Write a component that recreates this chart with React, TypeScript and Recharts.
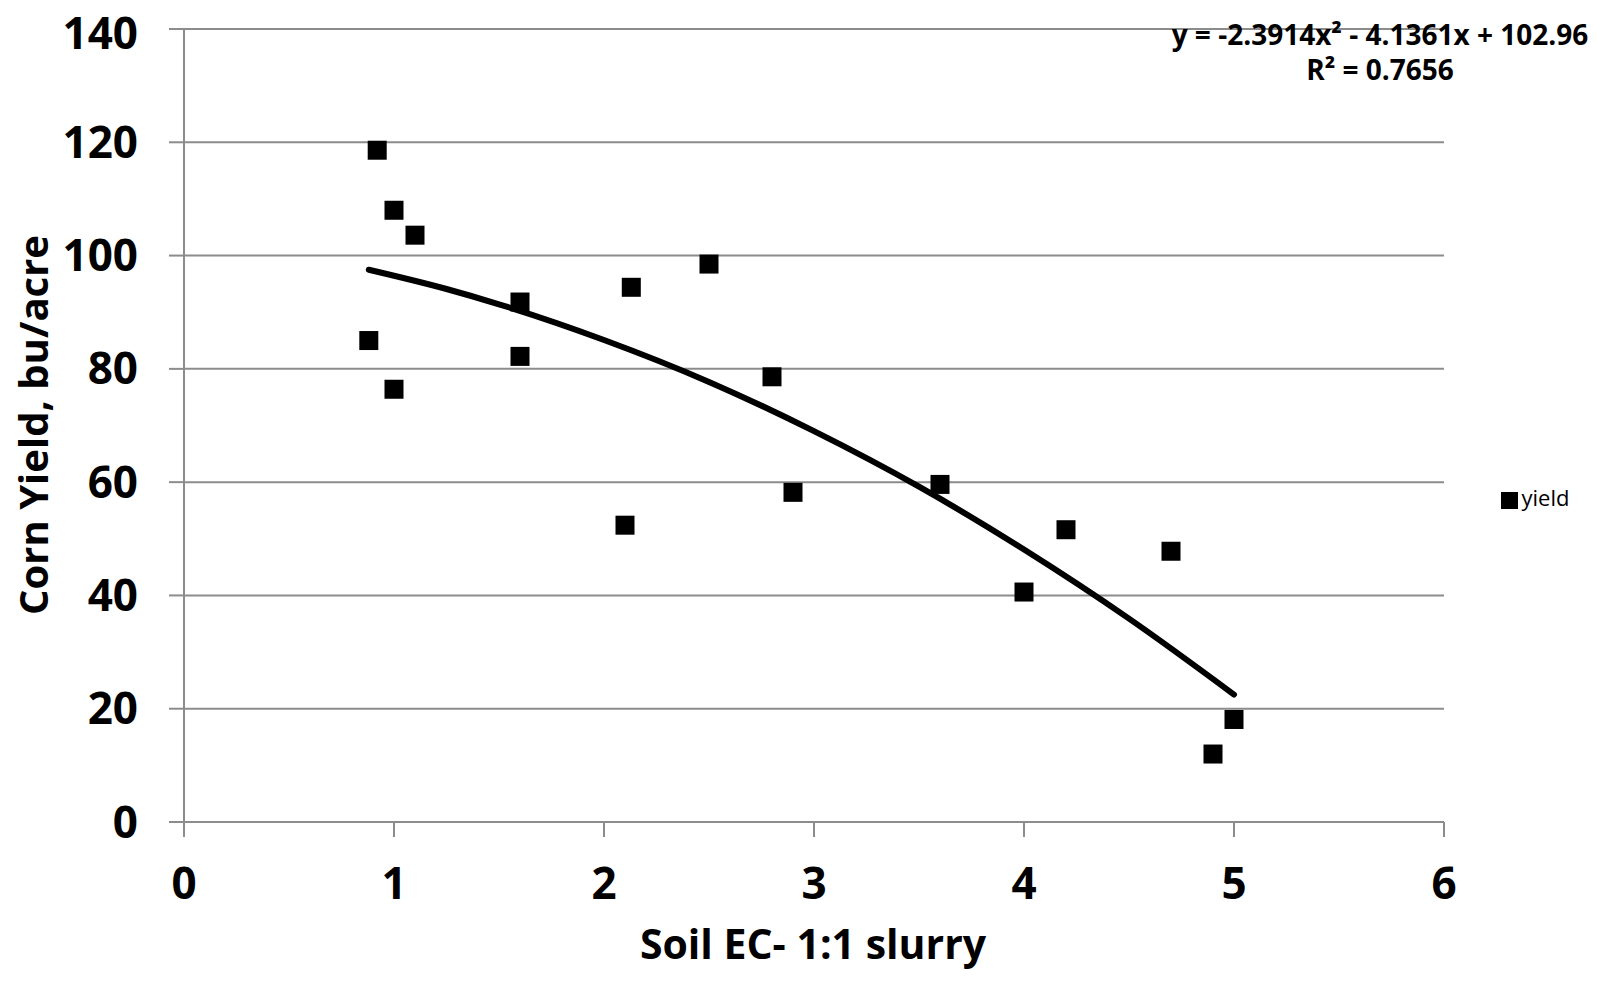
import {
  ComposedChart,
  Scatter,
  Line,
  XAxis,
  YAxis,
  CartesianGrid,
  Legend,
} from "recharts";

const ecValues = [0.92, 1.0, 1.1, 0.88, 1.0, 1.6, 1.6, 2.1, 2.13, 2.5, 2.8, 2.9, 3.6, 4.0, 4.2, 4.7, 4.9, 5.0];
const yieldValues = [118.6, 108.0, 103.6, 85.0, 76.4, 91.8, 82.2, 52.4, 94.4, 98.5, 78.6, 58.2, 59.6, 40.6, 51.6, 47.8, 12.0, 18.1];

// polynomial trendline as drawn
const trendX = [0.88, 1.25, 1.5, 2.0, 2.5, 3.0, 3.5, 4.0, 4.5, 5.0];
const trendY = [97.5, 94.1, 91.4, 85.1, 77.7, 69.0, 59.2, 48.1, 35.9, 22.5];

const xTicks = [0, 1, 2, 3, 4, 5, 6];
const yTicks = [0, 20, 40, 60, 80, 100, 120, 140];

const points = ecValues.map((x, i) => ({ x, y: yieldValues[i] }));
const trend = trendX.map((x, i) => ({ x, t: trendY[i] }));

const FONT = "'Open Sans', 'Noto Sans', sans-serif";
const GRID = "#8c8c8c";

const SquareDot = (props: any) => {
  const { cx, cy } = props;
  if (cx == null || cy == null) return null;
  return <rect x={cx - 9.5} y={cy - 9.5} width={19} height={19} fill="#000" />;
};

const App = () => {
  return (
    <div style={{ position: "relative", width: 1590, height: 965, fontFamily: FONT }}>
      <ComposedChart
        width={1590}
        height={965}
        margin={{ top: 21, right: 154, bottom: 51, left: 64 }}
      >
        <CartesianGrid vertical={false} stroke={GRID} strokeWidth={2} />
        <XAxis
          type="number"
          dataKey="x"
          domain={[0, 6]}
          ticks={xTicks}
          height={100}
          tickSize={15}
          tickMargin={31}
          stroke={GRID}
          strokeWidth={2}
          tick={{ fontSize: 44, fontWeight: 700, fill: "#000" }}
        />
        <YAxis
          type="number"
          domain={[0, 140]}
          ticks={yTicks}
          width={112}
          tickSize={15}
          tickMargin={31}
          stroke={GRID}
          strokeWidth={2}
          tick={{ fontSize: 44, fontWeight: 700, fill: "#000" }}
        />
        <Line
          data={trend}
          dataKey="t"
          type="monotone"
          stroke="#000"
          strokeWidth={6}
          strokeLinecap="round"
          dot={false}
          activeDot={false}
          legendType="none"
          isAnimationActive={false}
        />
        <Scatter
          name="yield"
          data={points}
          dataKey="y"
          fill="#000"
          shape={<SquareDot />}
          legendType="square"
          isAnimationActive={false}
        />
        <Legend
          layout="horizontal"
          align="center"
          verticalAlign="middle"
          iconSize={17}
          wrapperStyle={{ left: 1482, top: 474, width: 100, fontSize: 22, color: "#000", textAlign: "left" }}
          formatter={(v: string) => <span style={{ color: "#000" }}>{v}</span>}
        />
      </ComposedChart>

      <svg
        width={1590}
        height={965}
        style={{ position: "absolute", left: 0, top: 0, pointerEvents: "none", overflow: "visible" }}
      >
        <g fontFamily={FONT} fontWeight={700} fill="#000" textAnchor="middle">
          <text x={1372} y={37} fontSize={28}>
            y = -2.3914x² - 4.1361x + 102.96
          </text>
          <text x={1372} y={72} fontSize={28}>
            R² = 0.7656
          </text>
          <text x={805} y={951} fontSize={41}>
            Soil EC- 1:1 slurry
          </text>
          <text transform="translate(40,417) rotate(-90)" fontSize={40}>
            Corn Yield, bu/acre
          </text>
        </g>
      </svg>
    </div>
  );
};

export default App;
